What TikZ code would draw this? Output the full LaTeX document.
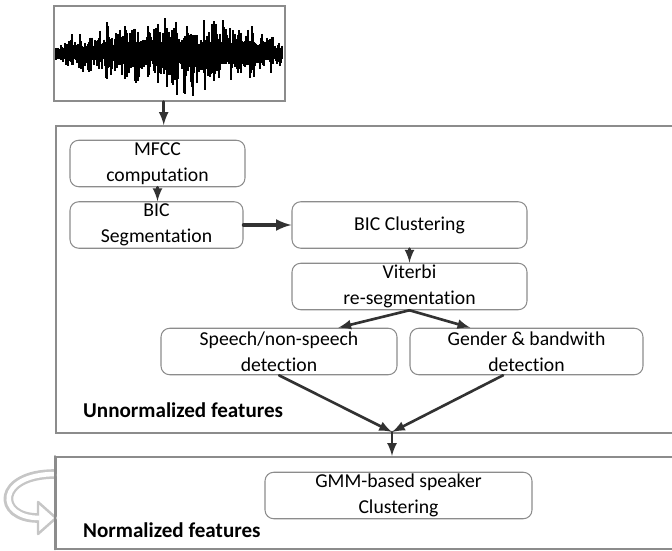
\documentclass[tikz,border=0pt]{standalone}
\usepackage{fontspec}
\setmainfont[Ligatures=NoCommon]{Carlito}
\usetikzlibrary{calc}
\definecolor{framegray}{RGB}{140,140,140}
\definecolor{arrowgray}{RGB}{50,50,50}
\def\envlist{{0.20,0.38,0.42,0.42,0.50,0.70,0.60,0.75,0.70,0.80,0.75,0.85,1.00,0.95,0.75,0.85,0.75,0.65,0.72,0.60,0.55,0.42,0.25}}

\begin{document}
\begin{tikzpicture}[x=0.2mm,y=-0.2mm,line cap=round,>=latex,
  stage/.style={draw=framegray,line width=0.6pt,rounded corners=5pt,align=center,
    inner sep=1pt,minimum height=0.93cm,font=\fontsize{11.2}{14.5}\selectfont},
  panel/.style={draw=framegray,line width=0.9pt,anchor=north west,inner sep=0pt},
  flow/.style={draw=arrowgray,line width=1.5pt,-latex},
  caption/.style={anchor=west,font=\bfseries\fontsize{12}{14}\selectfont}]
  \useasboundingbox (0,0) rectangle (672,551);

  % signal
  \node[panel,minimum width=4.62cm,minimum height=1.9cm] (wave) at (53,5) {};
  \pgfmathsetseed{5}
  \foreach \x in {56,57,...,282} {
    \pgfmathsetmacro\env{\envlist[int((\x-55)/10)]*(0.55+0.45*abs(sin(\x*19)))}
    \pgfmathsetmacro\up{2+12*\env+34*\env*rnd^2}
    \pgfmathsetmacro\dn{2+12*\env+34*\env*rnd^2}
    \draw[line width=0.75pt,line cap=butt] (\x,53-\up) -- (\x,53+\dn);
  }

  % panels
  \node[panel,minimum width=12.8cm,minimum height=6.14cm] (unnorm) at (55,125) {};
  \node[panel,minimum width=12.8cm,minimum height=1.84cm] (norm) at (55,456) {};
  \node[caption] (unnormlbl) at (77,410) {Unnormalized features};
  \node[caption] (normlbl) at (77,530) {Normalized features};

  % stages
  \node[stage,minimum width=3.5cm] (mfcc) at (157.5,163.5) {MFCC\\computation};
  \node[stage,minimum width=3.46cm] (bicseg) at (156.5,225) {BIC\\Segmentation};
  \node[stage,minimum width=4.7cm] (bicclu) at (409.5,225) {BIC Clustering};
  \node[stage,minimum width=4.7cm] (viterbi) at (409.5,286.5) {Viterbi\\re-segmentation};
  \node[stage,minimum width=4.72cm] (speech) at (279,351.5) {Speech/non-speech\\detection};
  \node[stage,minimum width=4.66cm] (gender) at (526.5,351.5) {Gender \& bandwith\\detection};
  \node[stage,minimum width=5.34cm] (gmm) at (398.5,495.5) {GMM-based speaker\\Clustering};

  \coordinate (wavefoot) at ($(wave.south west)!0.476!(wave.south east)$);
  \coordinate (merge) at (392,432);

  \draw[flow] (wavefoot) -- (wavefoot |- unnorm.north);
  \draw[flow] (mfcc.south) -- (mfcc.south |- bicseg.north);
  \draw[flow,line width=2pt] (bicseg.east) -- (bicclu.west);
  \draw[flow] (bicclu.south) -- (bicclu.south |- viterbi.north);
  \draw[flow] (viterbi.south) -- ($(speech.north east)!0.25!(speech.north west)$);
  \draw[flow] (viterbi.south) -- ($(gender.north west)!0.26!(gender.north east)$);
  \draw[flow] (speech.south) -- (merge);
  \draw[flow] ($(gender.south west)!0.4!(gender.south east)$) -- (merge);
  \draw[flow] (merge) -- (merge |- norm.north);

  % loop back
  \draw[draw=gray!45,line width=5.5pt,line cap=butt] (55,474) .. controls (-4,474) and (-4,518) .. (38,518);
  \filldraw[draw=gray!45,fill=white,line width=1.4pt,line join=round] (38,502) -- (56,518) -- (38,534) -- cycle;
  \draw[white,line width=2.6pt,line cap=butt] (56,474) .. controls (-4,474) and (-4,518) .. (39.5,518);
  \draw[framegray,line width=0.9pt] (norm.north west) -- (norm.south west);
\end{tikzpicture}
\end{document}
